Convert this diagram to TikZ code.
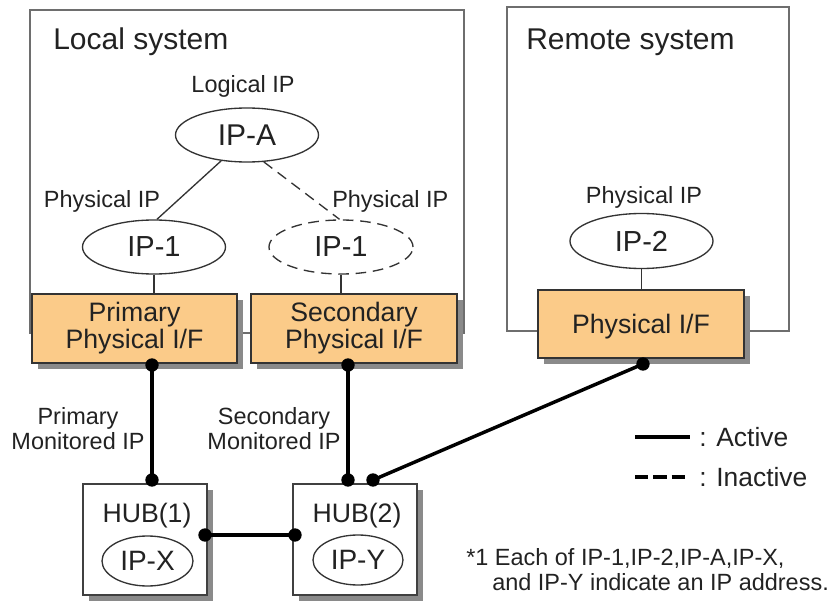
\documentclass[tikz,border=0pt]{standalone}
\usepackage{fontspec}
\setmainfont{Liberation Sans}
\usetikzlibrary{shapes.geometric}
\definecolor{ifc}{HTML}{FBCB89}
\definecolor{txt}{HTML}{222222}
\definecolor{frame}{HTML}{6E6E6E}
\definecolor{shd}{HTML}{8A8A8A}
\newcommand\pxu{0.75pt}
\begin{document}
\begin{tikzpicture}[x=0.75pt,y=-0.75pt,
  sysbox/.style={draw=frame,line width=1.5pt,rectangle,inner sep=0pt},
  shadowfill/.style={fill=shd},
  ifbox/.style={rectangle,draw=black!80,line width=1.1pt,fill=ifc,inner sep=0pt,align=center,text=txt,
     font=\fontsize{20}{20.25}\selectfont},
  hubbox/.style={rectangle,draw=black!75,line width=1.1pt,fill=white,inner sep=0pt},
  ipell/.style={ellipse,draw=black!80,line width=1pt,inner sep=0pt,fill=white,text=txt},
  title/.style={text=txt,font=\fontsize{22.5}{27}\selectfont,inner sep=0pt},
  lbl/.style={text=txt,font=\fontsize{17.6}{18.75}\selectfont,align=center,inner sep=0pt},
  hubtxt/.style={text=txt,font=\fontsize{20}{24}\selectfont,inner sep=0pt},
  thinln/.style={draw=black!80,line width=1pt},
  thickln/.style={draw=black,line width=2.6pt},
  dotn/.style={circle,fill=black,inner sep=0pt,minimum size=10pt},
  inact/.style={dash pattern=on 8pt off 5pt}
]
\useasboundingbox (0,0) rectangle (833,606);

% system frames
\node[sysbox,minimum width=434*\pxu,minimum height=323*\pxu] (local) at (247,171.5) {};
\node[sysbox,minimum width=282*\pxu,minimum height=324*\pxu] (remote) at (648,169) {};
\node[title,anchor=base west] (loct) at (53,50) {Local system};
\node[title,anchor=base west] (remt) at (526,50) {Remote system};

% shadows
\fill[shadowfill] (38,300) rectangle (243,369);
\fill[shadowfill] (257,300) rectangle (463,369);
\fill[shadowfill] (544,296) rectangle (750,364);
\fill[shadowfill] (89,490) rectangle (213,601);
\fill[shadowfill] (299,490) rectangle (423,601);

% interface boxes
\node[ifbox,minimum width=205*\pxu,minimum height=69*\pxu] (prim) at (134.5,328.5) {Primary\\Physical I/F};
\node[ifbox,minimum width=206*\pxu,minimum height=69*\pxu] (sec) at (354,328.5) {Secondary\\Physical I/F};
\node[ifbox,minimum width=206*\pxu,minimum height=68*\pxu,text depth=0pt] (rpif) at (641,324) {Physical I/F};

% IP ellipses
\node[ipell,minimum width=143*\pxu,minimum height=54*\pxu,font=\fontsize{22.5}{27}\selectfont] (ipa) at (247,135) {IP-A};
\node[ipell,minimum width=143*\pxu,minimum height=54*\pxu,font=\fontsize{21.75}{26}\selectfont] (ip1a) at (154,247) {IP-1};
\node[ipell,minimum width=144*\pxu,minimum height=54*\pxu,font=\fontsize{21.75}{26}\selectfont,inact] (ip1b) at (341,247) {IP-1};
\node[ipell,minimum width=143*\pxu,minimum height=55*\pxu,font=\fontsize{21.75}{26}\selectfont] (ip2) at (641.5,241) {IP-2};

% labels
\node[lbl,anchor=base] (logl) at (243,93) {Logical IP};
\node[lbl,anchor=base] (phl1) at (102,208) {Physical IP};
\node[lbl,anchor=base west] (phl2) at (332,208) {Physical IP};
\node[lbl,anchor=base] (phl3) at (644,204) {Physical IP};
\node[lbl] (pmon) at (78,429) {Primary\\Monitored IP};
\node[lbl] (smon) at (274,429) {Secondary\\Monitored IP};

% IP to interface connectors
\draw[thinln] (ipa.225) -- (ip1a.84);
\draw[thinln,inact] (ipa.302) -- (ip1b.93);
\draw[thinln] (ip1a.south) -- (ip1a.south |- prim.north);
\draw[thinln] (ip1b.south) -- (ip1b.south |- sec.north);
\draw[thinln] (ip2.south) -- (ip2.south |- rpif.north);

% hubs
\node[hubbox,minimum width=124*\pxu,minimum height=111*\pxu] (hub1) at (145,539.5) {};
\node[hubbox,minimum width=124*\pxu,minimum height=111*\pxu] (hub2) at (355,539.5) {};
\node[hubtxt,anchor=base] (hub1t) at (147,522) {HUB(1)};
\node[hubtxt,anchor=base] (hub2t) at (357,522) {HUB(2)};
\node[ipell,minimum width=91*\pxu,minimum height=50*\pxu,font=\fontsize{21}{25}\selectfont] (ipx) at (147.5,561) {IP-X};
\node[ipell,minimum width=90*\pxu,minimum height=50*\pxu,font=\fontsize{21}{25}\selectfont] (ipy) at (358,560) {IP-Y};

% connection points
\coordinate (pd) at (152,365);
\coordinate (h1d) at (152,480);
\coordinate (sd) at (348,365);
\coordinate (h2d) at (348,480);
\coordinate (h2r) at (373,480);
\coordinate (rd) at (643,364);
\coordinate (h1s) at (205,535);
\coordinate (h2s) at (295,535);

\draw[thickln] (pd) -- (h1d);
\draw[thickln] (sd) -- (h2d);
\draw[thickln] (rd) -- (h2r);
\draw[thickln] (h1s) -- (h2s);

\foreach \p in {pd,h1d,sd,h2d,h2r,rd,h1s,h2s}
  \node[dotn] at (\p) {};

% legend
\coordinate (la1) at (635,437);
\coordinate (la2) at (690,437);
\coordinate (li1) at (635,477);
\coordinate (li2) at (690,477);
\draw[thickln] (la1) -- (la2);
\draw[thickln,dash pattern=on 10pt off 3.75pt] (li1) -- (li2);
\node[text=txt,font=\fontsize{19.8}{24}\selectfont,anchor=west,inner sep=0pt] (lat) at (699,437) {: Active};
\node[text=txt,font=\fontsize{19.8}{24}\selectfont,anchor=west,inner sep=0pt] (lit) at (699,477) {: Inactive};

% note
\node[lbl,align=left,anchor=west] (note) at (466,570) {*1 Each of IP-1,IP-2,IP-A,IP-X,\\\hspace*{19.5pt}and IP-Y indicate an IP address.};
\end{tikzpicture}
\end{document}
